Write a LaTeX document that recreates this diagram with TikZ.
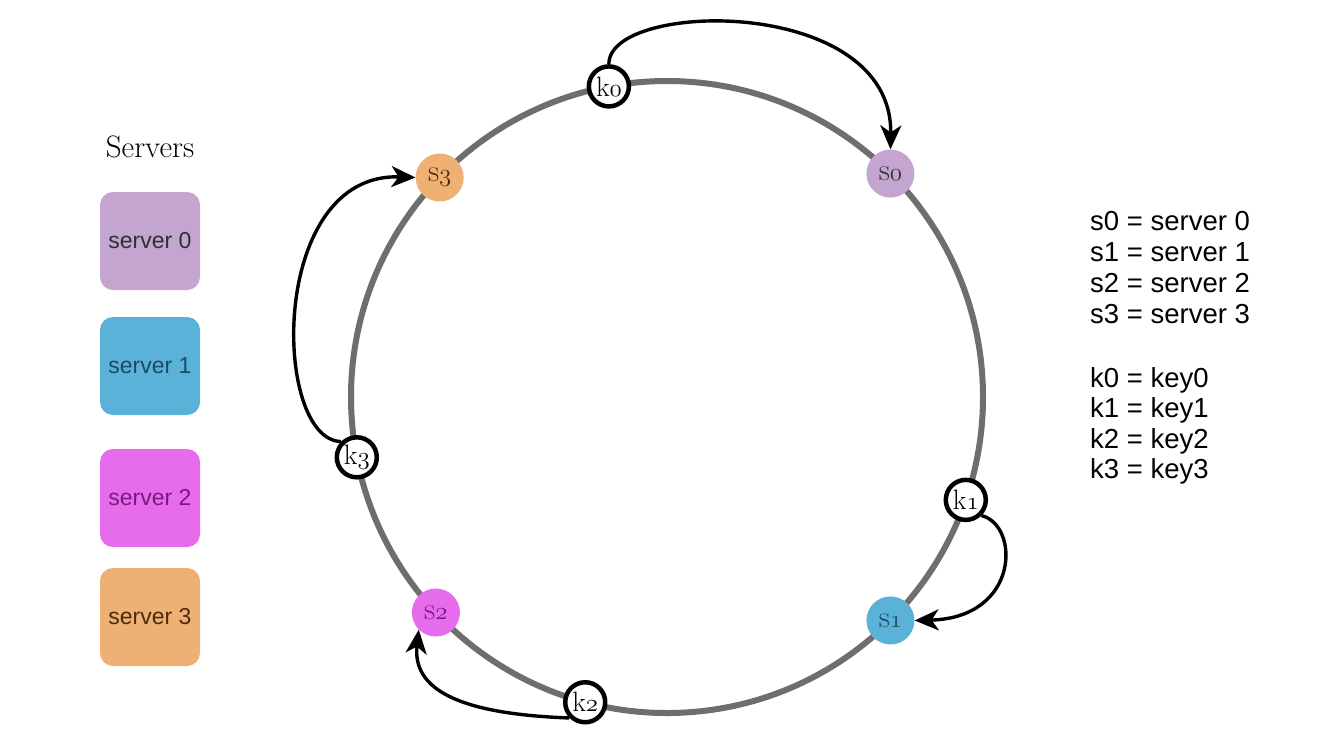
\documentclass[tikz,border=0pt]{standalone}
\usepackage{fontspec}
\newfontfamily\arial{Liberation Sans}
\usetikzlibrary{arrows.meta,calc}
\definecolor{ringgray}{HTML}{6E6E6E}
\definecolor{cz}{HTML}{C3A5CF}
\definecolor{co}{HTML}{5AB2D9}
\definecolor{ct}{HTML}{E66CEB}
\definecolor{ch}{HTML}{EFB173}
\definecolor{tz}{HTML}{2F2F33}
\definecolor{to}{HTML}{1D4A63}
\definecolor{tt}{HTML}{7A1A80}
\definecolor{th}{HTML}{4A2A10}
\newcommand{\osn}[1]{{\usefont{OML}{lmm}{m}{it}#1}}
\begin{document}
\begin{tikzpicture}[x=1pt,y=-1pt,
  ring/.style={draw=ringgray,line width=6pt},
  srv/.style={circle,minimum size=48pt,inner sep=0pt,font=\fontsize{31}{33}\selectfont},
  keynode/.style={circle,draw=black,fill=white,line width=4.5pt,minimum size=40pt,inner sep=0pt,font=\fontsize{28}{30}\selectfont},
  link/.style={-{Stealth[length=24pt,width=21pt,inset=7pt]},line width=3.4pt},
  legbox/.style={rounded corners=13pt,minimum width=100pt,minimum height=98pt,inner sep=0pt,font=\arial\fontsize{23}{25}\selectfont},
  legtext/.style={font=\arial\fontsize{27.5}{30}\selectfont,anchor=base west,inner sep=0pt},
  title/.style={font=\fontsize{31}{33}\selectfont,anchor=base,inner sep=0pt}
]
\useasboundingbox[fill=white] (0,0) rectangle (1324,737);
\coordinate (C) at (667,397);
\draw[ring] (C) circle[radius=316];

% servers on ring
\node[srv,fill=cz,text=tz] (s0) at ($(C)+(-45:316)$) {s\osn{0}};
\node[srv,fill=co,text=to] (s1) at ($(C)+(45:316)$) {s\osn{1}};
\node[srv,fill=ct,text=tt] (s2) at ($(C)+(137:316)$) {s\osn{2}};
\node[srv,fill=ch,text=th] (s3) at ($(C)+(-136:316)$) {s\osn{3}};

% keys on ring
\node[keynode] (k0) at ($(C)+(-100.6:316)$) {k\osn{0}};
\node[keynode] (k1) at ($(C)+(19:316)$) {k\osn{1}};
\node[keynode] (k2) at ($(C)+(105:316)$) {k\osn{2}};
\node[keynode] (k3) at ($(C)+(169:316)$) {k\osn{3}};

% connectors
\draw[link] (k0.north) .. controls (608,0) and (893,-5) .. (s0.north);
\draw[link] (k1.south east) .. controls (1020,525) and (1020,618) .. (s1.east);
\draw[link] (k2.south west) .. controls (460,714) and (412,690) .. (s2.south west);
\draw[link] (k3.north west) .. controls (272,440) and (268,172) .. (s3.west);

% left legend
\node[title] (tit) at (150,157) {Servers};
\node[legbox,fill=cz,text=tz] (b0) at (150,241) {server 0};
\node[legbox,fill=co,text=to] (b1) at (150,366) {server 1};
\node[legbox,fill=ct,text=tt] (b2) at (150,498) {server 2};
\node[legbox,fill=ch,text=th] (b3) at (150,617) {server 3};

% right legend
\node[legtext] (l0) at (1090,230) {s0 = server 0};
\node[legtext] (l1) at (1090,261) {s1 = server 1};
\node[legtext] (l2) at (1090,292) {s2 = server 2};
\node[legtext] (l3) at (1090,323) {s3 = server 3};
\node[legtext] (l4) at (1090,387) {k0 = key0};
\node[legtext] (l5) at (1090,417) {k1 = key1};
\node[legtext] (l6) at (1090,448) {k2 = key2};
\node[legtext] (l7) at (1090,478) {k3 = key3};
\end{tikzpicture}
\end{document}
